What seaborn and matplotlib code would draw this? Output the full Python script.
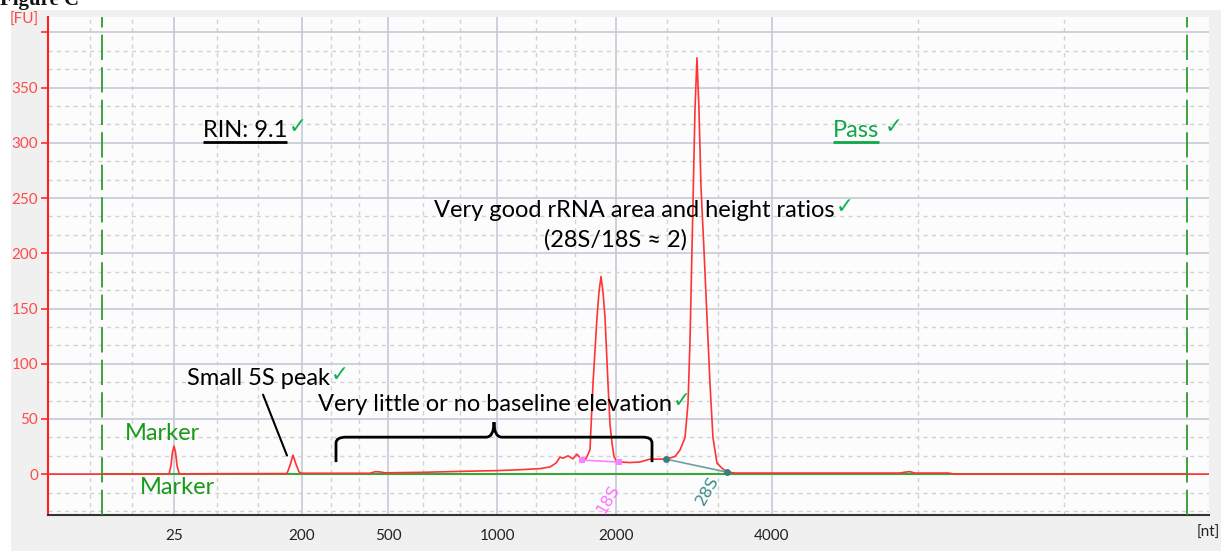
import matplotlib
matplotlib.use("Agg")
import matplotlib.pyplot as plt
import seaborn as sns
import numpy as np
import pandas as pd
from matplotlib.path import Path
from matplotlib.patches import PathPatch, Rectangle

# ---------------- data ----------------
# migration time (s) and fluorescence (FU) of the electropherogram trace
time_s = [17.00, 22.524, 22.615, 22.683, 22.752, 22.820, 22.889, 22.980, 23.071, 23.482,
          27.910, 28.047, 28.184, 28.321, 28.458, 28.595, 31.699, 31.927, 32.156, 32.384,
          33.982, 35.808, 37.497, 38.547, 39.460, 39.916, 40.190, 40.373, 40.510, 40.738,
          40.966, 41.149, 41.377, 41.560, 41.742, 41.879, 42.062, 42.153, 42.244, 42.336,
          42.427, 42.564, 42.656, 42.747, 42.838, 42.929, 43.066, 43.568, 44.024, 44.481,
          45.211, 45.622, 45.850, 46.079, 46.216, 46.307, 46.398, 46.535, 46.626, 46.717,
          46.809, 46.946, 47.083, 47.220, 47.356, 47.539, 47.768, 47.996, 48.361, 55.893,
          56.121, 56.350, 56.578, 58.085, 58.405, 70.00]
fu = [0, 0, 8, 20, 25.4, 20, 8, 1, 0, 0.3,
      0.5, 8, 17.2, 9, 2, 0.8, 0.8, 2.2, 2.0, 1.2,
      1.6, 2.5, 3.2, 4.0, 5.0, 6.5, 10.0, 15.4, 14.5, 16.6,
      13.9, 18.1, 12.7, 14, 22, 82, 142, 165, 179, 165,
      142, 82, 45, 28, 16, 12.5, 11, 10.5, 11, 13.6,
      13.6, 16, 21.8, 33, 64, 120, 203, 330, 377, 330,
      260, 203, 142, 82, 33, 10, 5.4, 2, 1, 1,
      1.8, 2.2, 1, 1, 0, 0]

tick_nt = ["25", "200", "500", "1000", "2000", "4000"]
tick_time = [22.77, 28.595, 32.52, 37.50, 42.93, 50.05]
minor_grid_time = [18.92, 20.83, 24.71, 26.59, 29.92, 31.20, 34.12, 35.81,
                   39.28, 41.06, 45.26, 47.59, 56.72, 63.38]
peak_labels = ["18S", "28S"]
peak_time = [42.27, 46.61]
frag18_time = [41.377, 43.066]
frag18_fu = [12.7, 11.0]
frag28_time = [45.211, 47.996]
frag28_fu = [13.6, 1.8]
window_time = [19.465, 69.0]
y_ticks = [0, 50, 100, 150, 200, 250, 300, 350, 400]
y_labels = ["0", "50", "100", "150", "200", "250", "300", "350", ""]

# ---------------- style ----------------
sns.set_theme(style="white")
plt.rcParams["font.family"] = ["Lato", "DejaVu Sans"]

W, H = 1221, 551
fig = plt.figure(figsize=(W / 100, H / 100), dpi=100, facecolor="white")
fig.patches.append(Rectangle((11 / W, 0), 1 - 11 / W, 1 - 10 / H, transform=fig.transFigure,
                             facecolor="#f0f0f0", edgecolor="none", zorder=-10))
ax = fig.add_axes([48 / W, 1 - 515 / H, (1209 - 48) / W, (515 - 17) / H])
ax.set_facecolor("#fcfcfc")
ax.set_xlim(17, 70)
ax.set_ylim(-37, 414)

fig.text(0.0, 1 - 5 / H, "Figure C", fontsize=15, fontweight="bold",
         family="Liberation Serif", va="baseline", ha="left", color="#111111")

# grid
grid_major = "#c4cad6"
grid_minor = "#d2d2d2"
for t in tick_time:
    ax.axvline(t, color=grid_major, lw=1.2, zorder=0)
for t in minor_grid_time:
    ax.axvline(t, color=grid_minor, lw=1.0, ls=(0, (3, 3)), zorder=0)
for yv in y_ticks:
    ax.axhline(yv, color=grid_major, lw=1.2, zorder=0)
minor_y = [v for v in np.arange(-50, 420, 50 / 3) if abs(v / 50 - round(v / 50)) > 0.05]
for yv in minor_y:
    ax.axhline(yv, color=grid_minor, lw=1.0, ls=(0, (3, 3)), zorder=0)

# trace
trace = pd.DataFrame({"time": time_s, "FU": fu})
sns.lineplot(data=trace, x="time", y="FU", ax=ax, color="#ff3333", lw=1.2,
             sort=False, estimator=None, zorder=3)
# baseline window
ax.axvline(window_time[0], color="#2e9a2e", lw=1.3, ls=(0, (14, 4)), zorder=4)
ax.axvline(window_time[1], color="#2e9a2e", lw=1.3, ls=(0, (14, 4)), zorder=4)
sns.lineplot(x=window_time, y=[0, 0], ax=ax, color="#3aa63a", lw=1.5, zorder=2)

# fragments
sns.lineplot(x=frag18_time, y=frag18_fu, ax=ax, color="#ff80ff", lw=1.2, marker="s",
             markersize=4, markeredgewidth=0, zorder=5)
sns.lineplot(x=frag28_time, y=frag28_fu, ax=ax, color="#6fa0a0", lw=1.2, marker="o",
             markersize=5, markerfacecolor="#3a7f7f", markeredgewidth=0, zorder=5)
ax.text(peak_time[0] + 0.3, -23, peak_labels[0], rotation=60, color="#ff70ff",
        fontsize=11.5, ha="center", va="center", family="DejaVu Sans")
ax.text(peak_time[1] + 0.5, -15, peak_labels[1], rotation=60, color="#3a8a8a",
        fontsize=11.5, ha="center", va="center", family="DejaVu Sans")

# axes
ax.set_xticks(tick_time)
ax.set_xticklabels(tick_nt, fontsize=11, color="#222222")
ax.set_xticks(peak_time, minor=True)
ax.tick_params(axis="x", which="major", length=6, color=grid_major, direction="out", pad=4)
ax.tick_params(axis="x", which="minor", length=4, color="#222222", direction="in", width=1)
ax.set_yticks(y_ticks)
ax.set_yticklabels(y_labels, fontsize=11, color="#ff4a4a")
ax.tick_params(axis="y", length=5, color="#ff3333", direction="out", pad=2, left=True)
for s in ["top", "right"]:
    ax.spines[s].set_visible(False)
ax.spines["left"].set_color("#ff2020")
ax.spines["left"].set_linewidth(1.5)
ax.spines["bottom"].set_color("#333333")
ax.spines["bottom"].set_linewidth(1.5)
ax.set_xlabel("")
ax.set_ylabel("")
fig.text(10 / W, 1 - 20 / H, "[FU]", color="#ff4a4a", fontsize=11, va="center", ha="left")
fig.text(1197 / W, 1 - 533 / H, "[nt]", color="#222222", fontsize=11, va="center", ha="left")

# annotations
FS = 17
chk = "#10b050"
fig.canvas.draw()
r = fig.canvas.get_renderer()


def note(x, y, s, ha="left", color="black", check=False, underline=None, gap=1):
    t = ax.text(x, y, s, ha=ha, va="center", fontsize=FS, color=color)
    bb = t.get_window_extent(r)
    inv = ax.transData.inverted()
    if underline:
        x0, _ = inv.transform((bb.x0, bb.y0))
        x1, _ = inv.transform((bb.x1, bb.y0))
        ax.plot([x0, x1], [y - 10.5, y - 10.5], color=underline, lw=2, solid_capstyle="butt")
    if check:
        xd, yd = inv.transform((bb.x1 + gap, (bb.y0 + bb.y1) / 2))
        ax.text(xd, yd + 2.5, "\u2713", ha="left", va="center", fontsize=15.5,
                fontweight="bold", color=chk, family="DejaVu Sans")
    return t


note(24.076, 311.5, "RIN: 9.1", check=True, underline="black")
note(52.835, 311.5, "Pass", color="#10a848", check=True, underline="#10a848", gap=6)
note(43.75, 239, "Very good rRNA area and height ratios", ha="center", check=True)
note(42.91, 212, "(28S/18S \u2248 2)", ha="center")
note(23.345, 87, "Small 5S peak", check=True)
note(29.325, 63.4, "Very little or no baseline elevation", check=True)
note(20.515, 37.1, "Marker", color="#1a9a1a")
note(21.2, -11.8, "Marker", color="#1a9a1a")
ax.annotate("", xy=(27.956, 14.5), xytext=(26.77, 74.3),
            arrowprops=dict(arrowstyle="-", color="black", lw=1.5))

# curly bracket
verts = [(30.147, 10.9), (30.147, 28.1), (30.147, 33.5), (30.604, 33.5), (36.995, 33.5),
         (37.36, 33.5), (37.36, 47.1), (37.36, 33.5), (37.725, 33.5), (44.162, 33.5),
         (44.573, 33.5), (44.573, 28.1), (44.573, 10.9)]
codes = [Path.MOVETO, Path.LINETO, Path.CURVE3, Path.CURVE3, Path.LINETO,
         Path.CURVE3, Path.CURVE3, Path.CURVE3, Path.CURVE3, Path.LINETO,
         Path.CURVE3, Path.CURVE3, Path.LINETO]
ax.add_patch(PathPatch(Path(verts, codes), facecolor="none", edgecolor="black", lw=2, zorder=6))

fig.savefig("out.png", dpi=100, facecolor=fig.get_facecolor())
